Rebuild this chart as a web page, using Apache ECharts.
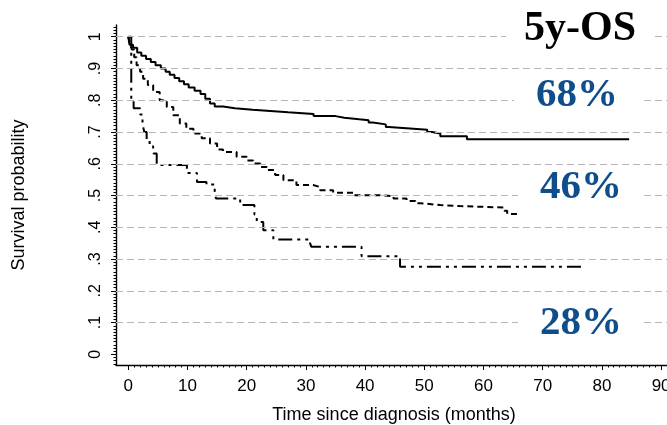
<!DOCTYPE html>
<html>
<head>
<meta charset="utf-8">
<script src="https://cdn.jsdelivr.net/npm/echarts@6/dist/echarts.min.js"></script>
<style>html,body{margin:0;padding:0;background:#fff}#c{width:667px;height:425px}</style>
</head>
<body>
<div id="c"></div>
<script>
// Kaplan-Meier curves: [time (months), survival probability after event]
const groupHigh = [[0,1],[0.2,0.975],[0.8,0.965],[1.5,0.95],[2.2,0.94],[3.0,0.93],[3.8,0.92],[4.6,0.91],[5.5,0.90],[6.3,0.89],[7.0,0.88],[7.8,0.87],[8.6,0.86],[9.4,0.85],[10.2,0.84],[11.2,0.83],[12.2,0.82],[13.0,0.805],[13.8,0.79],[14.6,0.78],[16.0,0.775],[18.0,0.77],[21.0,0.766],[24.0,0.762],[27.0,0.757],[31.3,0.75],[35.0,0.745],[36.5,0.74],[39.0,0.737],[40.6,0.73],[41.3,0.724],[43.5,0.716],[44.0,0.712],[47.0,0.707],[50.5,0.70],[51.3,0.695],[52.7,0.687],[57.2,0.677],[84.6,0.677]];
const groupMid = [[0,1],[0.3,0.975],[0.6,0.96],[1.0,0.935],[1.4,0.91],[2.0,0.89],[2.5,0.868],[3.3,0.848],[4.2,0.826],[5.3,0.80],[6.5,0.779],[7.6,0.753],[8.7,0.727],[9.8,0.71],[11.0,0.695],[12.4,0.68],[13.8,0.664],[15.0,0.645],[16.0,0.637],[18.3,0.622],[20.0,0.61],[21.1,0.601],[22.3,0.59],[23.4,0.58],[24.8,0.565],[26.2,0.548],[28.4,0.533],[31.2,0.527],[32.4,0.517],[34.6,0.509],[38.0,0.501],[42.5,0.498],[44.8,0.491],[47.0,0.483],[48.5,0.476],[49.3,0.47],[52.7,0.467],[56.0,0.462],[63.5,0.452],[64.0,0.442],[66.2,0.442]];
const groupLow = [[0,1],[0.5,0.80],[0.9,0.775],[2.0,0.755],[2.4,0.725],[2.7,0.70],[3.1,0.675],[3.6,0.655],[4.2,0.632],[4.8,0.596],[9.9,0.571],[11.6,0.543],[13.2,0.535],[14.6,0.512],[14.8,0.491],[18.9,0.47],[21.3,0.44],[21.7,0.417],[22.8,0.391],[24.5,0.362],[30.7,0.35],[30.9,0.339],[39.4,0.309],[45.9,0.276],[77.1,0.276]];
const xTickValues = [0, 10, 20, 30, 40, 50, 60, 70, 80, 90];
const yTickValues = [0, 0.1, 0.2, 0.3, 0.4, 0.5, 0.6, 0.7, 0.8, 0.9, 1];
const yGridValues = [0.1, 0.2, 0.3, 0.4, 0.5, 0.6, 0.7, 0.8, 0.9, 1];
const annotTitle = '5y-OS';
const annotRates = ['68%', '46%', '28%'];
const xTitle = 'Time since diagnosis (months)';
const yTitle = 'Survival probability';

// minor tick positions (every month, every 0.01)
const xMinor = [];
for (let i = 0; i <= 91; i++) xMinor.push(i);
const yMinor = [];
for (let i = -3; i <= 103; i++) yMinor.push(Math.round(i) / 100);

const chart = echarts.init(document.getElementById('c'), null, {renderer: 'canvas'});
const sans = '"Liberation Sans", Arial, sans-serif';
const serif = '"Liberation Serif", "Times New Roman", serif';
function fmtY(v) {
  const r = Math.round(v * 10) / 10;
  if (r === 0) return '0';
  if (r === 1) return '1';
  return String(r).replace('0.', '.');
}
const X_MIN = -2.078, X_MAX = 91.84, Y_MIN = -0.0334, Y_MAX = 1.0368;
const hidden = {show: false};
const option = {
  animation: false,
  backgroundColor: '#fff',
  grid: [{left: 116, top: 25, width: 556, height: 340, containLabel: false, outerBoundsMode: 'none'}],
  xAxis: [
    {type: 'value', min: X_MIN, max: X_MAX, position: 'bottom',
     axisLine: {show: true, onZero: false, lineStyle: {color: '#000', width: 1.4}},
     axisTick: {show: true, length: 5, customValues: xTickValues, lineStyle: {color: '#000', width: 1}},
     axisLabel: {show: true, margin: 13, customValues: xTickValues, color: '#000', fontSize: 17, fontFamily: sans,
                 showMinLabel: true, showMaxLabel: true, hideOverlap: false},
     splitLine: hidden,
     name: xTitle, nameLocation: 'middle', nameGap: 41,
     nameTextStyle: {color: '#000', fontSize: 18, fontFamily: sans}},
    {type: 'value', min: X_MIN, max: X_MAX, position: 'bottom',
     axisLine: {show: false, onZero: false},
     axisTick: {show: true, length: 2.5, customValues: xMinor, lineStyle: {color: '#000', width: 1}},
     axisLabel: hidden, splitLine: hidden}
  ],
  yAxis: [
    {type: 'value', min: Y_MIN, max: Y_MAX, position: 'left',
     axisLine: {show: true, onZero: false, lineStyle: {color: '#000', width: 1.4}},
     axisTick: {show: true, length: 5, customValues: yTickValues, lineStyle: {color: '#000', width: 1}},
     axisLabel: {show: true, rotate: 90, margin: 12, customValues: yTickValues, color: '#000', fontSize: 16,
                 fontFamily: sans, formatter: fmtY, showMinLabel: true, showMaxLabel: true, hideOverlap: false},
     splitLine: hidden,
     name: yTitle, nameLocation: 'middle', nameGap: 88,
     nameTextStyle: {color: '#000', fontSize: 18, fontFamily: sans}},
    {type: 'value', min: Y_MIN, max: Y_MAX, position: 'left',
     axisLine: {show: false, onZero: false},
     axisTick: {show: true, length: 2.5, customValues: yMinor, lineStyle: {color: '#000', width: 1}},
     axisLabel: hidden, splitLine: hidden}
  ],
  series: [
    {type: 'line', xAxisIndex: 0, yAxisIndex: 0, data: [], z: 1, silent: true,
     markLine: {silent: true, symbol: 'none', label: hidden, animation: false,
                lineStyle: {color: '#b5b5b5', width: 1, type: [7, 4]},
                data: yGridValues.map(v => ({yAxis: v}))}},
    {type: 'line', xAxisIndex: 0, yAxisIndex: 0, data: groupHigh, step: 'end', showSymbol: false,
     lineStyle: {color: '#000', width: 2, type: 'solid'}, z: 3},
    {type: 'line', xAxisIndex: 0, yAxisIndex: 0, data: groupMid, step: 'end', showSymbol: false,
     lineStyle: {color: '#000', width: 2, type: [6, 4]}, z: 3},
    {type: 'line', xAxisIndex: 0, yAxisIndex: 0, data: groupLow, step: 'end', showSymbol: false,
     lineStyle: {color: '#000', width: 2, type: [14, 5, 3, 5, 3, 5]}, z: 3}
  ],
  graphic: [
    {type: 'text', x: 580, y: 29, z: 100,
     style: {text: annotTitle, font: 'bold 42px ' + serif, fill: '#000', align: 'center', verticalAlign: 'middle',
             backgroundColor: '#fff', padding: [0, 18]}},
    {type: 'text', x: 577, y: 95, z: 100,
     style: {text: annotRates[0], font: 'bold 41px ' + serif, fill: '#104E8B', align: 'center', verticalAlign: 'middle',
             backgroundColor: '#fff', padding: [0, 22]}},
    {type: 'text', x: 581, y: 187, z: 100,
     style: {text: annotRates[1], font: 'bold 41px ' + serif, fill: '#104E8B', align: 'center', verticalAlign: 'middle',
             backgroundColor: '#fff', padding: [0, 22]}},
    {type: 'text', x: 581, y: 323, z: 100,
     style: {text: annotRates[2], font: 'bold 41px ' + serif, fill: '#104E8B', align: 'center', verticalAlign: 'middle',
             backgroundColor: '#fff', padding: [0, 22]}}
  ]
};
chart.setOption(option);
</script>
</body>
</html>
